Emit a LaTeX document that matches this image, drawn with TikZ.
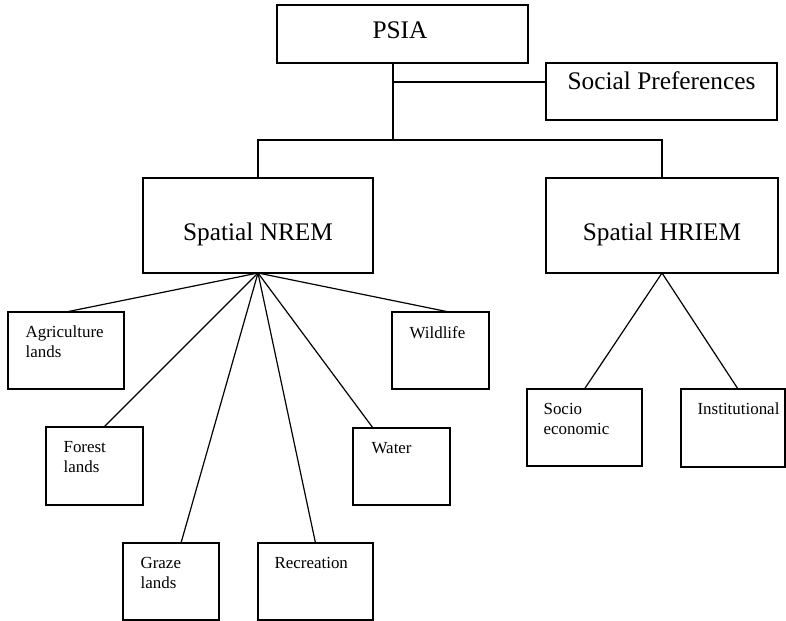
\documentclass[tikz,border=0pt]{standalone}
\usepackage{fontspec}
\setmainfont{Liberation Serif}
\usetikzlibrary{calc}

\begin{document}
\begin{tikzpicture}[
    x=0.75pt, y=-0.75pt,
    line width=0.9pt,
    box/.style={draw, rectangle, inner sep=0pt, outer sep=0pt},
    boxsize/.style 2 args={minimum width=#1*0.75pt, minimum height=#2*0.75pt},
    bigtext/.style={font=\fontsize{19}{23}\selectfont, inner sep=0pt, anchor=base},
    smalltext/.style={font=\fontsize{12.7}{15}\selectfont, align=left, inner sep=0pt, anchor=north west}
  ]
  \useasboundingbox (0,0) rectangle (786,621);

  % Top: PSIA and social preferences
  \node (psia) at (402.5, 34) [box, boxsize={251}{58}] {};
  \node (sp) at (661.5, 91.5) [box, boxsize={231}{57}] {};
  \node (psia-txt) at ($(psia.north)+(-2.5,33.5)$) [bigtext] {PSIA};
  \node (sp-txt) at ($(sp.north)+(0,26)$) [bigtext] {Social Preferences};

  % Middle: the two spatial models
  \node (nrem) at (258, 225.5) [box, boxsize={230}{95}] {};
  \node (hriem) at (662, 225.5) [box, boxsize={232}{95}] {};
  \node (nrem-txt) at ($(nrem.north)+(0,62)$) [bigtext] {Spatial NREM};
  \node (hriem-txt) at ($(hriem.north)+(0,62)$) [bigtext] {Spatial HRIEM};

  % Bottom: resources
  \node (agri) at (66, 350.5) [box, boxsize={116}{77}] {};
  \node (forest) at (94.5, 466) [box, boxsize={97}{78}] {};
  \node (graze) at (171, 581.5) [box, boxsize={96}{77}] {};
  \node (recre) at (315.5, 581.5) [box, boxsize={115}{77}] {};
  \node (water) at (401.5, 466.5) [box, boxsize={97}{77}] {};
  \node (wild) at (440.5, 350.5) [box, boxsize={97}{77}] {};
  \node (socio) at (584.5, 427.5) [box, boxsize={115}{77}] {};
  \node (inst) at (733, 428) [box, boxsize={104}{78}] {};

  \node (agri-txt) at ($(agri.north west)+(17,13.5)$) [smalltext] {Agriculture\\lands};
  \node (forest-txt) at ($(forest.north west)+(17,13.5)$) [smalltext] {Forest\\lands};
  \node (graze-txt) at ($(graze.north west)+(17,13.5)$) [smalltext] {Graze\\lands};
  \node (recre-txt) at ($(recre.north west)+(16,13.5)$) [smalltext] {Recreation};
  \node (water-txt) at ($(water.north west)+(18,13.5)$) [smalltext] {Water};
  \node (wild-txt) at ($(wild.north west)+(17,13.5)$) [smalltext] {Wildlife};
  \node (socio-txt) at ($(socio.north west)+(16,13.5)$) [smalltext] {Socio\\economic};
  \node (inst-txt) at ($(inst.north west)+(16,13.5)$) [smalltext] {Institutional};

  % Tree connectors
  \coordinate (trunk) at (393, 140);
  \coordinate (spjoin) at (393, 82);
  \draw (trunk |- psia.south) -- (trunk);
  \draw (spjoin) -- (spjoin -| sp.west);
  \draw (nrem.north) |- (trunk) -| (hriem.north);

  \foreach \child/\dx in {agri/0, forest/9.5, graze/10, recre/0, water/-28.5, wild/8.5}
    \draw (nrem.south) -- ($(\child.north)+(\dx,0)$);
  \foreach \child/\dx in {socio/0, inst/5}
    \draw (hriem.south) -- ($(\child.north)+(\dx,0)$);

\end{tikzpicture}
\end{document}
